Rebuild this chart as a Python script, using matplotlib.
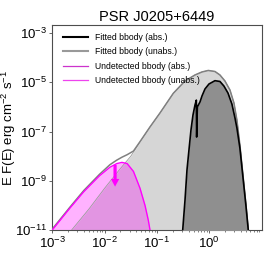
import matplotlib
matplotlib.use('Agg')
import matplotlib.pyplot as plt

plt.rcParams['font.family'] = ['Liberation Sans', 'DejaVu Sans']
plt.rcParams['mathtext.fontset'] = 'custom'
plt.rcParams['mathtext.rm'] = 'Liberation Sans'
plt.rcParams['mathtext.it'] = 'Liberation Sans:italic'
plt.rcParams['mathtext.bf'] = 'Liberation Sans:bold'

# energies in keV, E F(E) in erg cm^-2 s^-1
fit_unabs_E = [0.00234, 0.005, 0.01, 0.02, 0.0316, 0.0473, 0.0734, 0.114, 0.205,
               0.343, 0.532, 0.724, 0.955, 1.28, 1.594, 1.986, 2.477, 2.951,
               3.365, 3.837, 4.487, 5.01, 5.546]
fit_unabs_F = [1e-11, 7.1e-11, 5.0e-10, 3.16e-9, 1.0e-8, 3.78e-8, 1.54e-7, 5.7e-7, 3.6e-6,
               1.14e-5, 2.0e-5, 2.65e-5, 3.05e-5, 2.77e-5, 2.0e-5, 1.14e-5, 4.9e-6, 1.46e-6,
               2.96e-7, 2.85e-8, 1.08e-9, 1.04e-10, 1e-11]

# outer grey envelope (fitted + undetected, unabsorbed)
total_E = [0.001, 0.00219, 0.00398, 0.00794, 0.0126, 0.017, 0.0214, 0.0269, 0.0355,
           0.0473, 0.0734, 0.114, 0.205, 0.343, 0.532, 0.724, 0.955, 1.28, 1.594,
           1.986, 2.477, 2.951, 3.365, 3.837, 4.487, 5.01, 5.546]
total_F = [1.1e-11, 8.7e-11, 4.0e-10, 1.82e-9, 4.5e-9, 6.9e-9, 9.1e-9, 1.15e-8, 1.62e-8,
           3.89e-8, 1.54e-7, 5.7e-7, 3.6e-6, 1.14e-5, 2.0e-5, 2.65e-5, 3.05e-5, 2.77e-5, 2.0e-5,
           1.14e-5, 4.9e-6, 1.46e-6, 2.96e-7, 2.85e-8, 1.08e-9, 1.04e-10, 1e-11]

fit_abs_E = [0.31, 0.343, 0.374, 0.408, 0.446, 0.487, 0.532, 0.565, 0.572, 0.59, 0.663,
             0.724, 0.826, 0.985, 1.28, 1.594, 1.90, 2.27, 2.70, 3.09, 3.365, 3.837,
             4.487, 5.01, 5.546]
fit_abs_F = [1e-11, 1.66e-10, 2.75e-9, 1.78e-8, 1.17e-7, 4.7e-7, 1.2e-6, 1.9e-6, 6.0e-8,
             1.0e-6, 1.6e-6, 2.8e-6, 5.4e-6, 8.6e-6, 1.17e-5, 1.09e-5, 7.1e-6, 3.7e-6,
             1.32e-6, 3.57e-7, 1.4e-7, 2.15e-8, 8.9e-10, 9.5e-11, 1e-11]

undet_unabs_E = [0.001, 0.00219, 0.00398, 0.00794, 0.0126, 0.017, 0.0214, 0.0269, 0.0355,
                 0.0473, 0.059, 0.0682, 0.0735]
undet_unabs_F = [1e-11, 7.9e-11, 3.55e-10, 1.58e-9, 3.55e-9, 5.0e-9, 5.6e-9, 5.0e-9, 2.4e-9,
                 5.0e-10, 1.0e-10, 2.5e-11, 1e-11]

# upper-limit arrow
arrow_E = 0.0158
arrow_top = 4.4e-9
arrow_tip = 5.8e-10

fig = plt.figure(figsize=(2.74, 2.74), dpi=100)
ax = fig.add_axes([0.191, 0.1606, 0.764, 0.7482])
ax.set_xscale('log')
ax.set_yscale('log')

floor = 1e-13
ax.fill_between(fit_unabs_E, floor, fit_unabs_F, color='#d6d6d6', lw=0, zorder=1)
ax.fill_between(undet_unabs_E, floor, undet_unabs_F, color='magenta', alpha=0.3, lw=0, zorder=2)
ax.fill_between(fit_abs_E, floor, fit_abs_F, color='#8f8f8f', lw=0, zorder=3)

ax.plot(fit_unabs_E, fit_unabs_F, color='#9a9a9a', lw=0.6, zorder=4)
ax.plot(total_E, total_F, color='#808080', lw=1.1, zorder=5)
ax.plot(fit_abs_E, fit_abs_F, color='black', lw=1.2, zorder=6)
ax.plot(undet_unabs_E, undet_unabs_F, color='#ff00ff', lw=1.0, zorder=6)

ax.annotate('', xy=(arrow_E, arrow_tip), xytext=(arrow_E, arrow_top),
            arrowprops=dict(color='#ff00ff', width=2.3, headwidth=6, headlength=5.5, lw=0),
            zorder=7)

# legend handles
ax.plot([], [], color='black', lw=1.5, label='Fitted bbody (abs.)')
ax.plot([], [], color='#999999', lw=1.5, label='Fitted bbody (unabs.)')
ax.plot([], [], color='#cc33cc', lw=0.9, label='Undetected bbody (abs.)')
ax.plot([], [], color='#ee44ee', lw=0.9, label='Undetected bbody (unabs.)')
ax.legend(loc='upper left', frameon=False, fontsize=6.2, handlelength=2.9,
          handletextpad=0.9, labelspacing=0.62, borderaxespad=0.3,
          bbox_to_anchor=(0.02, 0.99))

ax.set_xlim(1e-3, 10)
ax.set_ylim(1e-11, 2.15e-3)
ax.set_yticks([1e-11, 1e-9, 1e-7, 1e-5, 1e-3])
ax.yaxis.set_minor_locator(matplotlib.ticker.NullLocator())
ax.set_xticks([1e-3, 1e-2, 1e-1, 1e0])
ax.tick_params(which='major', length=2.5, width=0.6, labelsize=9.5, color='0.3', pad=1.5)
ax.tick_params(which='minor', length=1.3, width=0.5, color='0.3')
for s in ax.spines.values():
    s.set_color('0.3')
    s.set_linewidth(0.8)

ax.set_ylabel('E F(E) erg cm$^{-2}$ s$^{-1}$', fontsize=9.5)
ax.yaxis.set_label_coords(-0.165, 0.5)
ax.set_title('PSR J0205+6449', fontsize=10.5, pad=3)

fig.savefig('out.png', dpi=100)
